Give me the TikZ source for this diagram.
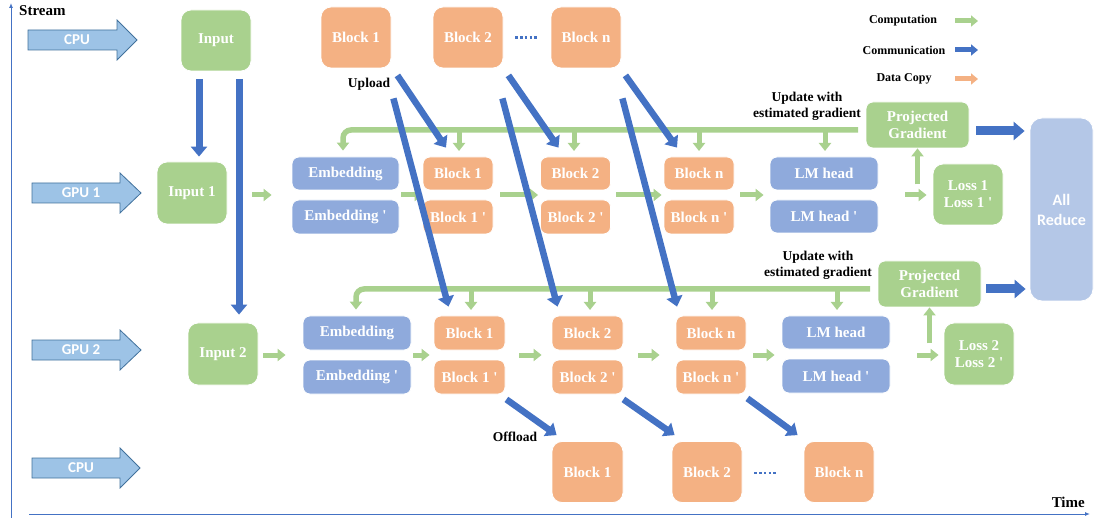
\documentclass[tikz,border=0pt]{standalone}
\usepackage{fontspec}
\setmainfont{Liberation Serif}
\newfontfamily\calib{Carlito}
\usetikzlibrary{arrows.meta,calc}
\definecolor{cgreen}{HTML}{A9D18E}
\definecolor{corange}{HTML}{F4B183}
\definecolor{cblue}{HTML}{8FAADC}
\definecolor{cred}{HTML}{B4C7E7}
\definecolor{cdark}{HTML}{4472C4}
\definecolor{cstream}{HTML}{9DC3E6}
\definecolor{cstreamb}{HTML}{41719C}
\newcommand{\pr}{\textquotesingle}
\begin{document}
\begin{tikzpicture}[x=1pt,y=-1pt,
  box/.style={rounded corners=7pt, draw=white, line width=0.8pt, text=white, inner sep=0pt,
     font=\fontsize{15}{17}\selectfont\bfseries, align=center},
  gbox/.style={box, fill=cgreen},
  obox/.style={box, fill=corange},
  bbox/.style={box, fill=cblue},
  big/.style={minimum width=70pt, minimum height=61pt, rounded corners=10pt},
  small/.style={minimum width=70pt, minimum height=33pt},
  wide/.style={minimum width=107pt, minimum height=33pt},
  garrow/.style={draw=cgreen, line width=5pt, -{Triangle[width=12pt,length=8pt]}},
  fbline/.style={draw=cgreen, line width=5.5pt, rounded corners=8pt},
  barrow/.style={draw=cdark, line width=6.5pt, -{Triangle[width=16pt,length=10pt]}},
  bigbarrow/.style={draw=cdark, line width=9pt, -{Triangle[width=18pt,length=11pt]}},
  lbl/.style={font=\fontsize{13.5}{16}\selectfont\bfseries, align=center, inner sep=0pt},
  leg/.style={font=\fontsize{12}{14}\selectfont\bfseries, inner sep=0pt},
  stream/.style={fill=cstream, draw=cstreamb, line width=0.8pt},
  stext/.style={text=white, font=\calib\fontsize{15}{17}\selectfont\bfseries, inner sep=0pt},
  dots/.style={draw=cdark, line width=2.5pt, dash pattern=on 2.5pt off 2.2pt}
]
\useasboundingbox (0,0) rectangle (1094,518);

% axes
\coordinate (ybot) at (11,518);
\coordinate (ytop) at (11,3);
\coordinate (xl) at (29,514);
\coordinate (xr) at (1090,514);
\draw[cdark, line width=1pt, -{Latex[length=5pt,width=4pt]}] (ybot) -- (ytop);
\draw[cdark, line width=1pt, -{Latex[length=5pt,width=4pt]}] (xl) -- (xr);
\node[anchor=west, font=\fontsize{15}{17}\selectfont\bfseries, inner sep=0pt] (st) at (19,11) {Stream};
\node[anchor=east, font=\fontsize{15}{17}\selectfont\bfseries, inner sep=0pt] (tm) at (1085,502) {Time};

% stream arrows
\draw[stream] (28,30) -- (117,30) -- (117,20) -- (137,40) -- (117,60) -- (117,50) -- (28,50) -- cycle;
\node[stext] (s1) at (77,40) {CPU};
\draw[stream] (32,183) -- (120,183) -- (120,173) -- (141,193) -- (120,213) -- (120,203) -- (32,203) -- cycle;
\node[stext] (s2) at (81,193) {GPU 1};
\draw[stream] (32,340) -- (120,340) -- (120,330) -- (141,350) -- (120,370) -- (120,360) -- (32,360) -- cycle;
\node[stext] (s3) at (81,350) {GPU 2};
\draw[stream] (32,458) -- (120,458) -- (120,448) -- (140,468) -- (120,488) -- (120,478) -- (32,478) -- cycle;
\node[stext] (s4) at (81,468) {CPU};

% legend
\node[leg] (l1) at (903,21) {Computation};
\node[leg] (l2) at (904,50) {Communication};
\node[leg] (l3) at (904,79) {Data Copy};
\coordinate (la1) at (955,21); \coordinate (lb1) at (978,21);
\coordinate (la2) at (955,50); \coordinate (lb2) at (978,50);
\coordinate (la3) at (955,79); \coordinate (lb3) at (978,79);
\draw[cgreen, line width=5pt, -{Triangle[width=11pt,length=7pt]}] (la1) -- (lb1);
\draw[cdark, line width=5pt, -{Triangle[width=11pt,length=7pt]}] (la2) -- (lb2);
\draw[corange, line width=5pt, -{Triangle[width=11pt,length=7pt]}] (la3) -- (lb3);

% CPU top
\node[gbox, big] (inp) at (216,40.5) {Input};
\node[obox, big] (cb1) at (356,37.5) {Block 1};
\node[obox, big] (cb2) at (468,37.5) {Block 2};
\node[obox, big] (cbn) at (586,37.5) {Block n};
\draw[dots] ($(cb2.east)+(12,0)$) -- ($(cbn.west)+(-13,0)$);

% GPU 1
\node[gbox, big, minimum height=62pt] (in1) at (192,193) {Input 1};
\node[bbox, wide] (emb1) at (345.5,173.5) {Embedding};
\node[bbox, wide, minimum height=34pt] (emb1p) at (345.5,217) {Embedding \pr};
\node[obox, small] (b11) at (458,173.5) {Block 1};
\node[obox, small, minimum height=34pt] (b11p) at (458,217) {Block 1 \pr};
\node[obox, small] (b12) at (575.5,173.5) {Block 2};
\node[obox, small, minimum height=34pt] (b12p) at (575.5,217) {Block 2 \pr};
\node[obox, small] (b1n) at (699,173.5) {Block n};
\node[obox, small, minimum height=34pt] (b1np) at (699,217) {Block n \pr};
\node[bbox, wide, minimum width=108pt] (lm1) at (824,173.5) {LM head};
\node[bbox, wide, minimum width=108pt] (lm1p) at (824,216.5) {LM head \pr};
\node[gbox, big] (loss1) at (968,194.5) {Loss 1\\Loss 1 \pr};
\node[gbox, minimum width=103pt, minimum height=46pt] (pg1) at (917.5,125) {Projected\\Gradient};
\node[box, fill=cred, minimum width=63pt, minimum height=183pt, rounded corners=12pt,
      font=\calib\fontsize{16}{20}\selectfont\bfseries] (ar) at (1061.5,209.5) {All\\Reduce};

% GPU 2
\node[gbox, big, minimum height=62pt] (in2) at (223,354) {Input 2};
\node[bbox, wide, minimum width=108pt, minimum height=34pt] (emb2) at (357,333) {Embedding};
\node[bbox, wide, minimum width=108pt, minimum height=34pt] (emb2p) at (357,377) {Embedding \pr};
\node[obox, small, minimum width=71pt, minimum height=34pt] (b21) at (469.5,333) {Block 1};
\node[obox, small, minimum width=71pt, minimum height=34pt] (b21p) at (469.5,377) {Block 1 \pr};
\node[obox, small, minimum width=71pt, minimum height=34pt] (b22) at (587.5,333) {Block 2};
\node[obox, small, minimum width=71pt, minimum height=34pt] (b22p) at (587.5,377) {Block 2 \pr};
\node[obox, small, minimum height=34pt] (b2n) at (711,333) {Block n};
\node[obox, small, minimum height=34pt] (b2np) at (711,377) {Block n \pr};
\node[bbox, wide, minimum width=108pt] (lm2) at (836,332.5) {LM head};
\node[bbox, wide, minimum width=108pt, minimum height=34pt] (lm2p) at (836,376) {LM head \pr};
\node[gbox, big, minimum height=62pt] (loss2) at (979,354) {Loss 2\\Loss 2 \pr};
\node[gbox, minimum width=103pt, minimum height=46pt] (pg2) at (929.5,284) {Projected\\Gradient};

% CPU bottom
\node[obox, big, minimum width=71pt] (ob1) at (587.5,472) {Block 1};
\node[obox, big] (ob2) at (707,472) {Block 2};
\node[obox, big] (obn) at (839,472) {Block n};
\draw[dots] ($(ob2.east)+(12,1)$) -- ($(obn.west)+(-26,1)$);

% labels
\node[lbl] (up) at (369,84) {Upload};
\node[lbl] (off) at (515,437) {Offload};
\node[lbl] (u1) at (807,106) {Update with\\estimated gradient};
\node[lbl] (u2) at (818,265) {Update with\\estimated gradient};

% input distribution
\coordinate (i1) at (199,79);
\coordinate (i2) at (239,79);
\draw[barrow, line width=7pt, shorten >=5pt] (i1) -- (i1 |- in1.north);
\draw[barrow, line width=7pt, shorten >=8pt] (i2) -- (i2 |- in2.north);

% GPU1 forward
\coordinate (r1) at (0,195);
\draw[garrow, shorten <=25pt, shorten >=20pt] (in1.east |- r1) -- (emb1.west |- r1);
\draw[garrow, shorten <=2pt] (emb1.east |- r1) -- (b11.west |- r1);
\draw[garrow, shorten <=7pt, shorten >=2pt] (b11.east |- r1) -- (b12.west |- r1);
\draw[garrow, shorten <=5pt, shorten >=2pt] (b12.east |- r1) -- (b1n.west |- r1);
\draw[garrow, shorten <=6pt, shorten >=6pt] (b1n.east |- r1) -- (lm1.west |- r1);
\draw[garrow, shorten <=27pt, shorten >=6pt] (lm1.east |- r1) -- (loss1.west |- r1);
\draw[garrow] ([yshift=-36pt]pg1.south) -- (pg1.south);

% GPU2 forward
\coordinate (r2) at (0,355);
\draw[garrow, shorten <=5pt, shorten >=17pt] (in2.east |- r2) -- (emb2.west |- r2);
\draw[garrow, shorten <=2pt, shorten >=4pt] (emb2.east |- r2) -- (b21.west |- r2);
\draw[garrow, shorten <=14pt, shorten >=10pt] (b21.east |- r2) -- (b22.west |- r2);
\draw[garrow, shorten <=15pt, shorten >=16pt] (b22.east |- r2) -- (b2n.west |- r2);
\draw[garrow, shorten <=7pt, shorten >=7pt] (b2n.east |- r2) -- (lm2.west |- r2);
\draw[garrow, shorten <=27pt, shorten >=5pt] (lm2.east |- r2) -- (loss2.west |- r2);
\draw[garrow] ([yshift=-36pt]pg2.south) -- (pg2.south);

% to all reduce
\coordinate (p1) at ([yshift=-6pt]pg1.east);
\coordinate (p2) at ([yshift=-5pt]pg2.east);
\draw[bigbarrow, shorten <=7pt, shorten >=5pt] (p1) -- (p1 -| ar.west);
\draw[bigbarrow, shorten <=5pt, shorten >=4pt] (p2) -- (p2 -| ar.west);

% feedback GPU1
\coordinate (f1r) at (858,130);
\coordinate (f1l) at (343,130);
\draw[fbline, -{Triangle[width=12pt,length=8pt]}, shorten >=6pt] (f1r) -- (f1l) -- (f1l |- emb1.north);
\foreach \n/\xx in {b11/459, b12/574, b1n/699, lm1/825}{
  \draw[garrow, shorten >=6pt] (\xx,130) -- (\xx,157);
}
% feedback GPU2
\coordinate (f2r) at (870,289);
\coordinate (f2l) at (356,289);
\draw[fbline, -{Triangle[width=12pt,length=8pt]}, shorten >=6pt] (f2r) -- (f2l) -- (f2l |- emb2.north);
\foreach \xx in {471, 590, 712, 837}{
  \draw[garrow, shorten >=6pt] (\xx,289) -- (\xx,316);
}

% upload arrows
\draw[barrow] ([shift={(6pt,-7pt)}]cb1.south east) -- ([shift={(-12pt,9pt)}]b11.north);
\draw[barrow] ([shift={(5pt,-7pt)}]cb2.south east) -- ([shift={(-17pt,9pt)}]b12.north);
\draw[barrow] ([shift={(4pt,-7pt)}]cbn.south east) -- ([shift={(-22pt,9pt)}]b1n.north);
\draw[barrow] ([shift={(2pt,-30pt)}]cb1.south east) -- ([shift={(-21pt,9pt)}]b21.north);
\draw[barrow] ([shift={(-1pt,-30pt)}]cb2.south east) -- ([shift={(-30pt,9pt)}]b22.north);
\draw[barrow] ([shift={(1pt,-30pt)}]cbn.south east) -- ([shift={(-34pt,9pt)}]b2n.north);

% offload arrows
\draw[barrow] ([shift={(1pt,-5pt)}]b21p.south east) -- ([shift={(5pt,6pt)}]ob1.north west);
\draw[barrow] ([shift={(0pt,-5pt)}]b22p.south east) -- ([shift={(3pt,6pt)}]ob2.north west);
\draw[barrow] ([shift={(1pt,-4pt)}]b2np.south east) -- ([shift={(-6pt,6pt)}]obn.north west);
\end{tikzpicture}
\end{document}
